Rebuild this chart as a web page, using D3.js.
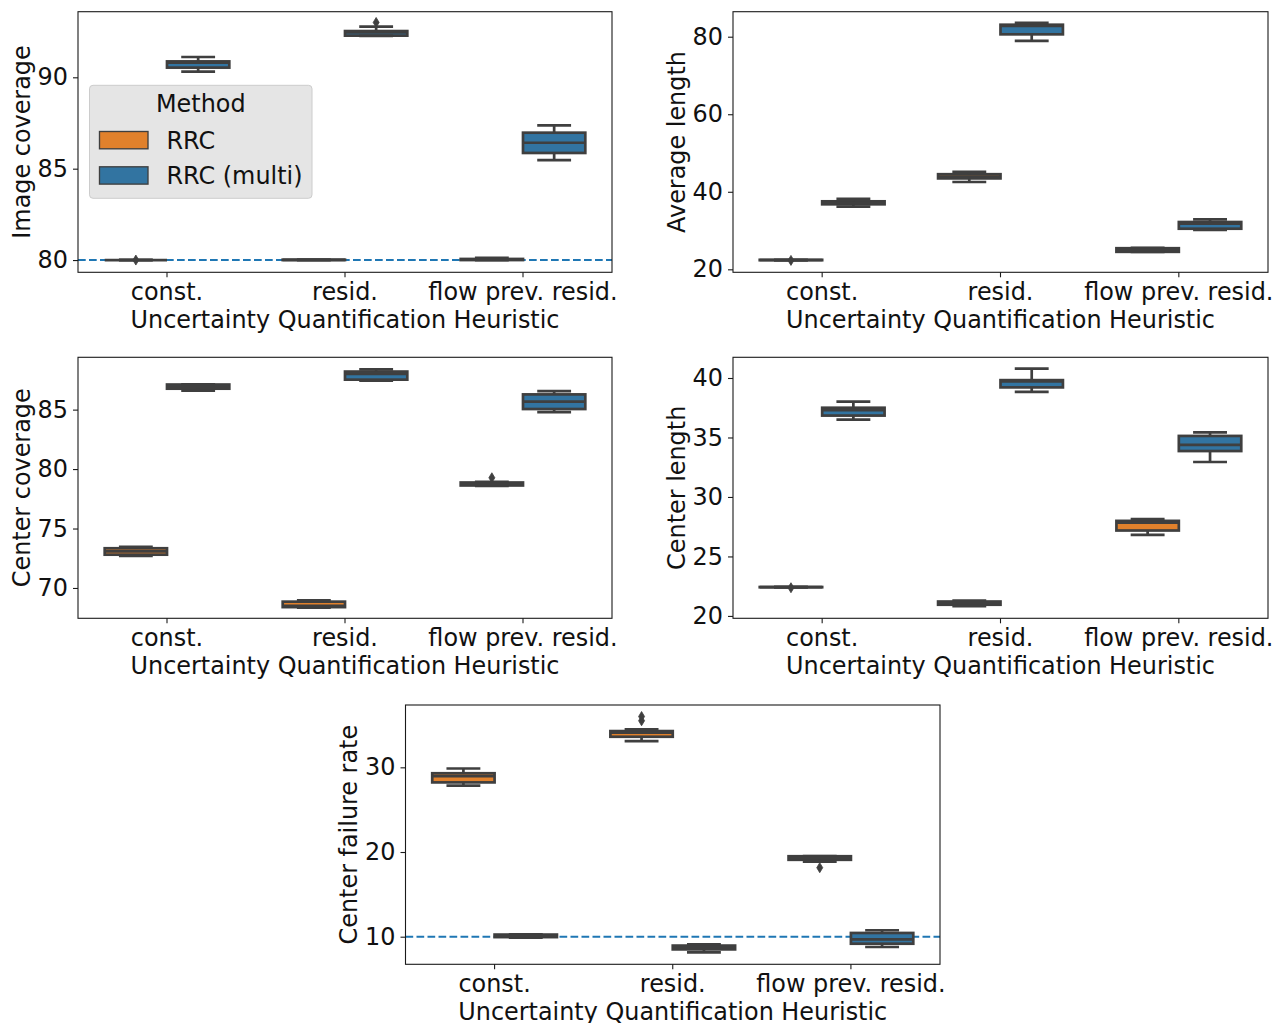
<!DOCTYPE html>
<html>
<head>
<meta charset="utf-8">
<script src="https://cdn.jsdelivr.net/npm/d3@7"></script>
<style>
  html, body { margin: 0; padding: 0; background: #ffffff; }
  svg { display: block; font-family: "DejaVu Sans", sans-serif; }
</style>
</head>
<body>
<svg id="chart" width="1277" height="1023"></svg>
<script>
// ---- data -------------------------------------------------------------
const categories = ["const.", "resid.", "flow prev. resid."];
const methods = ["RRC", "RRC (multi)"];
const methodColors = ["#e1812c", "#3274a1"];

// Box summaries per row:
// [category, method, lower whisker, Q1, median, Q3, upper whisker, outliers]
const imageCoverage = [
  ["const.",            "RRC",         80.00, 80.00, 80.00, 80.00, 80.01, [80.00]],
  ["const.",            "RRC (multi)", 90.31, 90.53, 90.80, 90.87, 91.11, []],
  ["resid.",            "RRC",         79.99, 80.00, 80.01, 80.02, 80.03, []],
  ["resid.",            "RRC (multi)", 92.27, 92.28, 92.46, 92.53, 92.77, [93.00]],
  ["flow prev. resid.", "RRC",         79.99, 80.00, 80.03, 80.06, 80.12, []],
  ["flow prev. resid.", "RRC (multi)", 85.47, 85.86, 86.42, 86.97, 87.37, []]
];
const averageLength = [
  ["const.",            "RRC",         22.33, 22.35, 22.40, 22.45, 22.47, [22.30]],
  ["const.",            "RRC (multi)", 36.15, 36.77, 37.10, 37.54, 38.20, []],
  ["resid.",            "RRC",         42.52, 43.45, 43.90, 44.53, 45.17, []],
  ["resid.",            "RRC (multi)", 78.94, 80.61, 82.80, 83.09, 83.58, []],
  ["flow prev. resid.", "RRC",         24.46, 24.51, 25.00, 25.44, 25.55, []],
  ["flow prev. resid.", "RRC (multi)", 30.14, 30.47, 31.76, 32.20, 32.90, []]
];
const centerCoverage = [
  ["const.",            "RRC",         72.70, 72.80, 73.07, 73.34, 73.45, []],
  ["const.",            "RRC (multi)", 86.60, 86.76, 86.93, 87.11, 87.13, []],
  ["resid.",            "RRC",         68.34, 68.39, 68.50, 68.85, 68.96, []],
  ["resid.",            "RRC (multi)", 87.44, 87.52, 88.00, 88.20, 88.39, []],
  ["flow prev. resid.", "RRC",         78.59, 78.62, 78.75, 78.87, 78.93, [79.27]],
  ["flow prev. resid.", "RRC (multi)", 84.79, 85.05, 85.67, 86.28, 86.56, []]
];
const centerLength = [
  ["const.",            "RRC",         22.40, 22.41, 22.42, 22.43, 22.45, [22.37]],
  ["const.",            "RRC (multi)", 36.50, 36.84, 37.30, 37.50, 38.01, []],
  ["resid.",            "RRC",         20.82, 20.94, 21.05, 21.21, 21.29, []],
  ["resid.",            "RRC (multi)", 38.83, 39.21, 39.72, 39.82, 40.79, []],
  ["flow prev. resid.", "RRC",         26.82, 27.18, 27.85, 27.99, 28.14, []],
  ["flow prev. resid.", "RRC (multi)", 32.94, 33.86, 34.37, 35.13, 35.43, []]
];
const centerFailureRate = [
  ["const.",            "RRC",         27.85, 28.22, 28.97, 29.30, 29.86, []],
  ["const.",            "RRC (multi)",  9.88,  9.95, 10.10, 10.25, 10.28, []],
  ["resid.",            "RRC",         33.10, 33.61, 34.10, 34.28, 34.47, [35.50, 36.00]],
  ["resid.",            "RRC (multi)",  8.15,  8.50,  8.70,  8.95,  9.10, []],
  ["flow prev. resid.", "RRC",         18.85, 19.08, 19.30, 19.50, 19.53, [18.15]],
  ["flow prev. resid.", "RRC (multi)",  8.78,  9.17,  9.69, 10.44, 10.76, []]
];

// y tick values and axis limits
const imageCoverageTicks = [80, 85, 90];
const averageLengthTicks = [20, 40, 60, 80];
const centerCoverageTicks = [70, 75, 80, 85];
const centerLengthTicks = [20, 25, 30, 35, 40];
const centerFailureRateTicks = [10, 20, 30];

const imageCoverageLimits = [79.33, 93.59];
const averageLengthLimits = [19.23, 86.45];
const centerCoverageLimits = [67.45, 89.40];
const centerLengthLimits = [19.80, 41.74];
const centerFailureRateLimits = [6.74, 37.36];

// target levels drawn as dashed reference lines
const imageCoverageTarget = 80;
const centerFailureRateTarget = 10;

const xTitle = "Uncertainty Quantification Heuristic";
const legendTitle = "Method";

// ---- layout -----------------------------------------------------------
const panels = [
  { rows: imageCoverage, ticks: imageCoverageTicks, limits: imageCoverageLimits,
    label: "Image coverage", target: imageCoverageTarget,
    left: 78, top: 11.7, width: 534, height: 260.6, legend: true },
  { rows: averageLength, ticks: averageLengthTicks, limits: averageLengthLimits,
    label: "Average length", target: null,
    left: 733, top: 11.7, width: 535, height: 260.6 },
  { rows: centerCoverage, ticks: centerCoverageTicks, limits: centerCoverageLimits,
    label: "Center coverage", target: null,
    left: 78, top: 357.3, width: 534, height: 261 },
  { rows: centerLength, ticks: centerLengthTicks, limits: centerLengthLimits,
    label: "Center length", target: null,
    left: 733, top: 357.3, width: 535, height: 261 },
  { rows: centerFailureRate, ticks: centerFailureRateTicks, limits: centerFailureRateLimits,
    label: "Center failure rate", target: centerFailureRateTarget,
    left: 405.5, top: 705, width: 534.5, height: 259.3 }
];

const FS = 23.9;           // text size
const INK = "#3f3f3f";     // box outline grey
const LW = 2.7;            // box line width
const color = d3.scaleOrdinal().domain(methods).range(methodColors);

const svg = d3.select("#chart");

function styleAxis(sel) {
  sel.select(".domain").remove();
  sel.attr("font-size", null).attr("font-family", null);
  sel.selectAll(".tick line").attr("stroke", "#1a1a1a").attr("stroke-width", 1.1);
  sel.selectAll(".tick text")
    .attr("fill", "#111")
    .style("font-size", FS + "px")
    .style("font-family", "'DejaVu Sans', sans-serif");
}

panels.forEach(p => {
  const g = svg.append("g").attr("transform", `translate(${p.left},${p.top})`);

  const x = d3.scaleBand().domain(categories).range([0, p.width]).padding(0);
  const bwCat = x.bandwidth();
  const xm = d3.scaleBand().domain(methods).range([bwCat * 0.15, bwCat * 0.85]).padding(0);
  const y = d3.scaleLinear().domain(p.limits).range([p.height, 0]);
  const bw = xm.bandwidth();

  // dashed target line sits underneath the boxes
  if (p.target != null) {
    g.append("line")
      .attr("x1", 0).attr("x2", p.width)
      .attr("y1", y(p.target)).attr("y2", y(p.target))
      .attr("stroke", "#1f77b4").attr("stroke-width", 2)
      .attr("stroke-dasharray", "7.7,3.3");
  }

  const stats = p.rows.map(r => ({
    cat: r[0], method: r[1], lo: r[2], q1: r[3], med: r[4], q3: r[5], hi: r[6], fliers: r[7]
  }));

  const box = g.selectAll("g.box").data(stats).join("g")
    .attr("class", "box")
    .attr("transform", d => `translate(${x(d.cat) + xm(d.method)},0)`);

  box.append("rect")
    .attr("x", 0).attr("width", bw)
    .attr("y", d => y(d.q3))
    .attr("height", d => Math.max(0, y(d.q1) - y(d.q3)))
    .attr("fill", d => color(d.method))
    .attr("stroke", INK).attr("stroke-width", LW);

  // whiskers
  box.append("line")
    .attr("x1", bw / 2).attr("x2", bw / 2)
    .attr("y1", d => y(d.q1)).attr("y2", d => y(d.lo))
    .attr("stroke", INK).attr("stroke-width", LW);
  box.append("line")
    .attr("x1", bw / 2).attr("x2", bw / 2)
    .attr("y1", d => y(d.q3)).attr("y2", d => y(d.hi))
    .attr("stroke", INK).attr("stroke-width", LW);

  // caps
  ["lo", "hi"].forEach(k => {
    box.append("line")
      .attr("x1", bw / 4).attr("x2", bw * 3 / 4)
      .attr("y1", d => y(d[k])).attr("y2", d => y(d[k]))
      .attr("stroke", INK).attr("stroke-width", LW)
      .attr("stroke-linecap", "square");
  });

  // median
  box.append("line")
    .attr("x1", 0).attr("x2", bw)
    .attr("y1", d => y(d.med)).attr("y2", d => y(d.med))
    .attr("stroke", INK).attr("stroke-width", LW);

  // outliers as thin diamonds
  box.each(function(d) {
    d3.select(this).selectAll("path.flier").data(d.fliers).join("path")
      .attr("class", "flier")
      .attr("transform", v => `translate(${bw / 2},${y(v)})`)
      .attr("d", "M0,-5L3,0L0,5L-3,0Z")
      .attr("fill", INK).attr("stroke", INK).attr("stroke-width", 0.8);
  });

  // frame
  g.append("rect")
    .attr("x", 0).attr("y", 0).attr("width", p.width).attr("height", p.height)
    .attr("fill", "none").attr("stroke", "#1a1a1a").attr("stroke-width", 1.1);

  // axes
  g.append("g")
    .call(d3.axisLeft(y).tickValues(p.ticks).tickFormat(d3.format("d")).tickSize(5).tickPadding(5))
    .call(styleAxis);

  g.append("g")
    .attr("transform", `translate(0,${p.height})`)
    .call(d3.axisBottom(x).tickSize(5).tickPadding(6))
    .call(styleAxis);

  // axis titles
  g.append("text")
    .attr("x", p.width / 2).attr("y", p.height + 55.8)
    .attr("text-anchor", "middle")
    .attr("fill", "#111").style("font-size", FS + "px")
    .text(xTitle);

  g.append("text")
    .attr("transform", `translate(-48.5,${p.height / 2}) rotate(-90)`)
    .attr("text-anchor", "middle")
    .attr("fill", "#111").style("font-size", FS + "px")
    .text(p.label);

  // legend
  if (p.legend) {
    const lg = svg.append("g").attr("transform", "translate(89.5,85.3)");
    lg.append("rect")
      .attr("width", 222.5).attr("height", 113).attr("rx", 3.5)
      .attr("fill", "#e5e5e5").attr("stroke", "#cccccc").attr("stroke-width", 1);
    lg.append("text")
      .attr("x", 111.3).attr("y", 26.4)
      .attr("text-anchor", "middle")
      .attr("fill", "#111").style("font-size", FS + "px")
      .text(legendTitle);
    const item = lg.selectAll("g.item").data(methods).join("g")
      .attr("class", "item")
      .attr("transform", (m, i) => `translate(0,${46.2 + i * 35.3})`);
    item.append("rect")
      .attr("x", 10).attr("y", 0).attr("width", 48.5).attr("height", 17.3)
      .attr("fill", m => color(m)).attr("stroke", INK).attr("stroke-width", 1.35);
    item.append("text")
      .attr("x", 77).attr("y", 17.5)
      .attr("fill", "#111").style("font-size", FS + "px")
      .text(m => m);
  }
});
</script>
</body>
</html>
